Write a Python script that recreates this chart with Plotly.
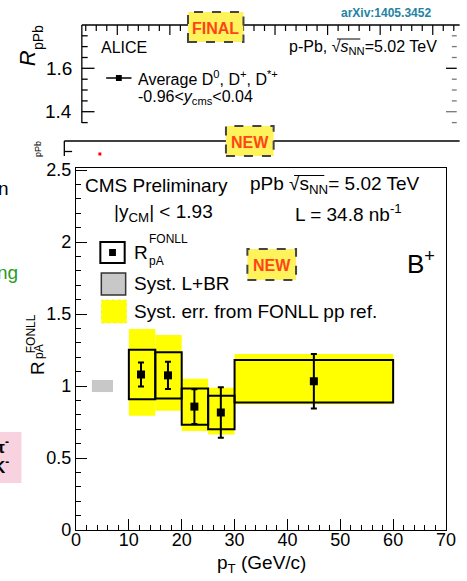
import plotly.graph_objects as go

# ---- B+ nuclear modification factor vs pT (pPb, 5.02 TeV) ----
pt_lo = [10, 15, 20, 25, 30]
pt_hi = [15, 20, 25, 30, 60]
pt_mean = [12.3, 17.4, 22.4, 27.4, 45.0]
r_pa = [1.08, 1.074, 0.857, 0.816, 1.033]
stat_err = [0.083, 0.095, 0.12, 0.175, 0.19]
syst_err = [0.172, 0.16, 0.126, 0.116, 0.148]
fonll_up = [0.316, 0.28, 0.193, 0.172, 0.189]
fonll_dn = [0.286, 0.245, 0.17, 0.152, 0.16]

# global normalisation uncertainty (luminosity + branching ratio)
glob_x = [3.0, 7.0]
glob_err = 0.042

x_ticks = [0, 10, 20, 30, 40, 50, 60, 70]
y_ticks = [0, 0.5, 1, 1.5, 2, 2.5]

FONT = "Liberation Sans, Arial, Helvetica, sans-serif"
W, H = 467, 581
L, R, T, B = 76, 456, 168, 530


def px(x):
    return (x - L) / (R - L)


def py(y):
    return (B - y) / (B - T)


fig = go.Figure()

shapes = []
ann = []

# FONLL pp-reference uncertainty bands
for lo, hi, v, u, d in zip(pt_lo, pt_hi, r_pa, fonll_up, fonll_dn):
    shapes.append(dict(type="rect", xref="x", yref="y", x0=lo, x1=hi,
                       y0=v - d, y1=v + u, fillcolor="#ffff00",
                       line=dict(width=0), layer="below"))

# systematic boxes
for lo, hi, v, s in zip(pt_lo, pt_hi, r_pa, syst_err):
    shapes.append(dict(type="rect", xref="x", yref="y", x0=lo, x1=hi,
                       y0=v - s, y1=v + s, fillcolor="rgba(0,0,0,0)",
                       line=dict(color="black", width=2), layer="above"))

# global uncertainty box at unity
shapes.append(dict(type="rect", xref="x", yref="y", x0=glob_x[0], x1=glob_x[1],
                   y0=1 - glob_err, y1=1 + glob_err, fillcolor="#c8c8c8",
                   line=dict(width=0), layer="below"))

fig.add_trace(go.Scatter(
    x=pt_mean, y=r_pa, mode="markers",
    marker=dict(symbol="square", size=8, color="black"),
    error_y=dict(type="data", array=stat_err, color="black",
                 thickness=2, width=3),
    showlegend=False, cliponaxis=False))


def pxrect(x0, y0, x1, y1, **kw):
    d = dict(type="rect", xref="paper", yref="paper",
             x0=px(x0), x1=px(x1), y0=py(y1), y1=py(y0))
    d.update(kw)
    shapes.append(d)


def pxline(x0, y0, x1, y1, color="black", width=1, dash=None):
    ln = dict(color=color, width=width)
    if dash:
        ln["dash"] = dash
    shapes.append(dict(type="line", xref="paper", yref="paper",
                       x0=px(x0), x1=px(x1), y0=py(y0), y1=py(y1), line=ln))


def text(x, y, s, size=19, color="black", xa="left", ya="middle",
         angle=0, bold=False, italic=False, family=FONT):
    if bold:
        s = "<b>" + s + "</b>"
    if italic:
        s = "<i>" + s + "</i>"
    ann.append(dict(xref="paper", yref="paper", x=px(x), y=py(y), text=s,
                    showarrow=False, xanchor=xa, yanchor=ya, textangle=angle,
                    font=dict(family=family, size=size, color=color)))


def badge(x0, y0, x1, y1, label):
    pxrect(x0, y0, x1, y1, fillcolor="#fff35c",
           line=dict(color="#444444", width=2, dash="dash"), layer="above")
    text((x0 + x1) / 2, (y0 + y1) / 2 + 1, label, size=16, color="#ff4418",
         xa="center", bold=True)


# ---- upper panel: ALICE D-meson R_pPb (partially shown) ----
pxline(82, 25, 470, 25, width=1.3)
pxline(82, 25, 82, 123, width=1.3)
for yy in [35.8, 46.6, 57.5, 68.3, 79.2, 90.0, 100.9, 111.7, 122.6]:
    major = yy in (68.3, 111.7)
    pxline(82, yy, 95 if major else 88, yy, width=1.3)
    pxline(456 if major else 462, yy, 467, yy,
           color="black" if yy == 68.3 else "#777777", width=1.3)
xt = 86.0
k = 0
while xt < 467:
    major = (k % 5 == 3)
    pxline(xt, 25, xt, 35 if major else 31, width=1.2)
    xt += 10.8
    k += 1
text(74, 68, "1.6", size=19, xa="right")
text(74, 112, "1.4", size=19, xa="right")
text(26, 58, "R", size=22, xa="center", angle=-90, italic=True)
text(37, 38, "pPb", size=14, xa="center", angle=-90)
text(100, 48, "ALICE", size=16)
text(293, 48, "p-Pb, √<i>s</i><sub>NN</sub>=5.02 TeV", size=16)
pxline(344, 39, 368, 39, width=1)
pxline(107, 78, 133, 78, width=1.5)
pxrect(117, 75, 123, 81, fillcolor="black", line=dict(width=0))
text(138, 78, "Average D<sup>0</sup>, D<sup>+</sup>, D<sup>*+</sup>", size=16)
text(138, 97, "-0.96<<i>y</i><sub>cms</sub><0.04", size=16)
text(443, 13, "arXiv:1405.3452", size=12, color="#2383a3", xa="right", bold=True)
badge(191, 12, 248, 42, "FINAL")

# ---- second panel behind (ALICE preliminary) ----
pxline(64, 141, 470, 141, width=1.3)
pxline(64, 141, 64, 156, width=1.3)
pxline(64, 151.5, 72, 151.5, width=1.3)
text(37, 149, "pPb", size=9, xa="center", angle=-90)
pxrect(99, 152.5, 102, 155.5, fillcolor="red", line=dict(width=0))
badge(230, 126, 279, 156, "NEW")

# ---- slide fragments on the left ----
text(9, 188, "n", size=19, xa="right")
text(18, 272, "ng", size=19, color="#2a9a2a", xa="right")
pxrect(-5, 432, 20, 483, fillcolor="#f8d3df", line=dict(width=0), layer="below")
text(9, 446, "π<sup>-</sup>", size=17, xa="right", bold=True)
text(9, 466, "K<sup>-</sup>", size=17, xa="right", bold=True)

# ---- CMS panel texts ----
text(83, 185, "CMS Preliminary", size=19)
text(253, 185, "pPb √s<sub>NN</sub>= 5.02 TeV", size=19)
pxline(300, 175.5, 331, 175.5, width=1)
text(113, 213, "|y<sub>CM</sub>| < 1.93", size=19)
text(413, 213, "L = 34.8 nb<sup>-1</sup>", size=19, xa="right")
text(414, 262, "B<sup>+</sup>", size=26)
badge(252, 249, 302, 280, "NEW")

# legend
pxrect(101, 242, 126, 263, fillcolor="white",
       line=dict(color="black", width=2), layer="above")
pxrect(110, 249, 117, 256, fillcolor="black", line=dict(width=0), layer="above")
text(133, 252, "R", size=19)
text(149, 239, "FONLL", size=12)
text(149, 261, "pA", size=12)
pxrect(102, 273, 127, 295, fillcolor="#c8c8c8",
       line=dict(color="#333333", width=1.5), layer="above")
text(133, 283, "Syst. L+BR", size=19)
pxrect(102, 300, 128, 323, fillcolor="#ffff00",
       line=dict(color="#f4f040", width=1, dash="dot"), layer="above")
text(133, 311, "Syst. err. from FONLL pp ref.", size=19)

# axis titles
text(266, 564, "p<sub>T</sub> (GeV/c)", size=19, xa="center")
text(36, 368, "R", size=19, xa="center", angle=-90)
text(30, 334, "FONLL", size=12, xa="center", angle=-90)
text(38, 352, "pA", size=12, xa="center", angle=-90)

axis_common = dict(showline=True, linecolor="black", linewidth=1.3,
                   mirror=True, ticks="inside", ticklen=11, tickwidth=1.3,
                   tickcolor="black", showgrid=False, zeroline=False,
                   tickfont=dict(family=FONT, size=18, color="black"))

fig.update_layout(
    width=W, height=H,
    margin=dict(l=L, r=W - R, t=T, b=H - B, pad=0),
    paper_bgcolor="white", plot_bgcolor="white",
    showlegend=False,
    xaxis=dict(range=[0, 70], tickvals=x_ticks, ticklabelstandoff=-7,
               minor=dict(dtick=2, ticks="inside", ticklen=5,
                          tickwidth=1.3, tickcolor="black"),
               **axis_common),
    yaxis=dict(range=[0, 2.514], tickvals=y_ticks,
               minor=dict(dtick=0.1, ticks="inside", ticklen=5,
                          tickwidth=1.3, tickcolor="black"),
               **axis_common),
    shapes=shapes,
    annotations=ann,
)

fig.write_html("out.html")
